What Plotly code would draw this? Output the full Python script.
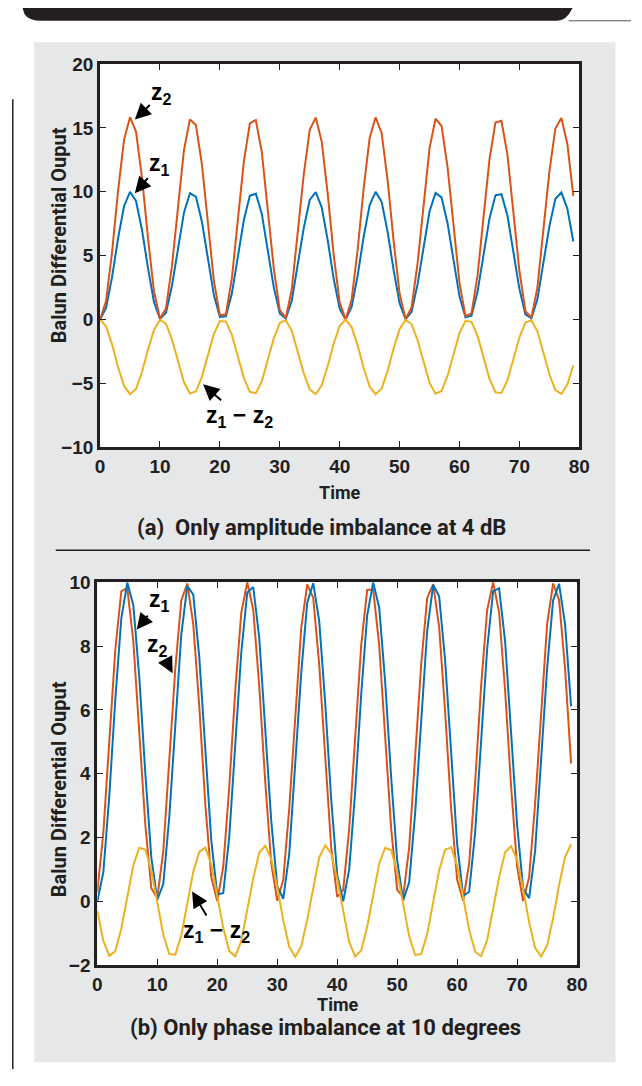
import plotly.graph_objects as go

# ---------------- data ----------------
time = list(range(80))

a_z1 = [0.00, 0.91, 3.32, 6.34, 8.87, 9.99, 9.28, 7.01, 4.02, 1.38,
        0.05, 0.54, 2.65, 5.62, 8.36, 9.88, 9.61, 7.66, 4.74, 1.91,
        0.21, 0.26, 2.03, 4.89, 7.79, 9.68, 9.85, 8.26, 5.48, 2.52,
        0.47, 0.08, 1.48, 4.16, 7.16, 9.36, 9.97, 8.78, 6.21, 3.19,
        0.83, 0.00, 1.00, 3.45, 6.48, 8.96, 9.99, 9.21, 6.87, 3.88,
        1.28, 0.03, 0.60, 2.77, 5.76, 8.47, 9.91, 9.56, 7.54, 4.60,
        1.80, 0.17, 0.30, 2.15, 5.03, 7.90, 9.72, 9.81, 8.14, 5.33,
        2.40, 0.41, 0.10, 1.58, 4.31, 7.29, 9.43, 9.95, 8.68, 6.11]

a_z2 = [0.00, 1.44, 5.26, 10.05, 14.06, 15.83, 14.71, 11.11, 6.37, 2.19,
        0.08, 0.86, 4.20, 8.91, 13.25, 15.66, 15.23, 12.14, 7.51, 3.03,
        0.33, 0.41, 3.22, 7.75, 12.35, 15.34, 15.61, 13.09, 8.69, 3.99,
        0.74, 0.13, 2.35, 6.59, 11.35, 14.84, 15.80, 13.92, 9.84, 5.06,
        1.32, 0.00, 1.59, 5.47, 10.27, 14.20, 15.83, 14.60, 10.89, 6.15,
        2.03, 0.05, 0.95, 4.39, 9.13, 13.42, 15.71, 15.15, 11.95, 7.29,
        2.85, 0.27, 0.48, 3.41, 7.97, 12.52, 15.41, 15.55, 12.90, 8.45,
        3.80, 0.65, 0.16, 2.50, 6.83, 11.55, 14.95, 15.77, 13.76, 9.68]

a_diff = [0.00, -0.53, -1.94, -3.71, -5.19, -5.84, -5.43, -4.10, -2.35, -0.81,
          -0.03, -0.32, -1.55, -3.29, -4.89, -5.78, -5.62, -4.48, -2.77, -1.12,
          -0.12, -0.15, -1.19, -2.86, -4.56, -5.66, -5.76, -4.83, -3.21, -1.47,
          -0.27, -0.05, -0.87, -2.43, -4.19, -5.48, -5.83, -5.14, -3.63, -1.87,
          -0.49, 0.00, -0.59, -2.02, -3.79, -5.24, -5.84, -5.39, -4.02, -2.27,
          -0.75, -0.02, -0.35, -1.62, -3.37, -4.95, -5.80, -5.59, -4.41, -2.69,
          -1.05, -0.10, -0.18, -1.26, -2.94, -4.62, -5.69, -5.74, -4.76, -3.12,
          -1.40, -0.24, -0.06, -0.92, -2.52, -4.26, -5.52, -5.82, -5.08, -3.57]

b_z1 = list(a_z1)

b_z2 = [0.30, 2.15, 5.03, 7.90, 9.72, 9.81, 8.15, 5.33, 2.40, 0.41,
        0.10, 1.58, 4.30, 7.29, 9.43, 9.96, 8.68, 6.11, 3.05, 0.75,
        0.01, 1.09, 3.59, 6.61, 9.04, 10.00, 9.13, 6.74, 3.74, 1.19,
        0.02, 0.67, 2.91, 5.90, 8.57, 9.93, 9.51, 7.41, 4.46, 1.69,
        0.14, 0.35, 2.27, 5.18, 8.02, 9.76, 9.77, 8.03, 5.19, 2.28,
        0.36, 0.14, 1.69, 4.45, 7.41, 9.50, 9.94, 8.59, 5.92, 2.91,
        0.68, 0.02, 1.18, 3.73, 6.75, 9.12, 10.00, 9.05, 6.60, 3.60,
        1.09, 0.01, 0.75, 3.04, 6.04, 8.67, 9.96, 9.44, 7.29, 4.32]

b_diff = [-0.30, -1.24, -1.71, -1.56, -0.85, 0.18, 1.13, 1.68, 1.62, 0.97,
          -0.05, -1.04, -1.65, -1.67, -1.07, -0.08, 0.93, 1.55, 1.69, 1.16,
          0.20, -0.83, -1.56, -1.72, -1.25, -0.32, 0.72, 1.52, 1.74, 1.33,
          0.45, -0.59, -1.43, -1.74, -1.41, -0.57, 0.46, 1.37, 1.75, 1.50,
          0.69, -0.35, -1.27, -1.73, -1.54, -0.80, 0.22, 1.18, 1.68, 1.60,
          0.92, -0.11, -1.09, -1.68, -1.65, -1.03, -0.03, 0.97, 1.62, 1.69,
          1.12, 0.15, -0.88, -1.58, -1.72, -1.22, -0.28, 0.76, 1.54, 1.73,
          1.31, 0.40, -0.65, -1.46, -1.73, -1.38, -0.53, 0.51, 1.39, 1.79]

x_ticks = [0, 10, 20, 30, 40, 50, 60, 70, 80]
a_y_ticks = [-10, -5, 0, 5, 10, 15, 20]
b_y_ticks = [-2, 0, 2, 4, 6, 8, 10]

y_title = "Balun Differential Ouput"
x_title = "Time"
caption_a = "(a)  Only amplitude imbalance at 4 dB"
caption_b = "(b) Only phase imbalance at 10 degrees"

# ---------------- styling ----------------
W, H = 642, 1086
BLUE, RED, YEL = "#0072BD", "#D95319", "#EDB120"
INK = "#231F20"
GRAY = "#E6E7E8"
NARROW = "Liberation Sans Narrow, Roboto, Arial, sans-serif"
SANS = "Liberation Sans, Arial, sans-serif"


def X(px):
    return px / W


def Y(py):
    return 1 - py / H


# plot-area pixel boxes (left, right, top, bottom)
A_BOX = (97.5, 589.0, 55.0, 446.0)
B_BOX = (94.7, 586.7, 583.5, 974.0)

fig = go.Figure()

LW = 2
fig.add_trace(go.Scatter(x=time, y=a_z1, mode="lines", line=dict(color=BLUE, width=LW), xaxis="x", yaxis="y"))
fig.add_trace(go.Scatter(x=time, y=a_z2, mode="lines", line=dict(color=RED, width=LW), xaxis="x", yaxis="y"))
fig.add_trace(go.Scatter(x=time, y=a_diff, mode="lines", line=dict(color=YEL, width=LW), xaxis="x", yaxis="y"))
fig.add_trace(go.Scatter(x=time, y=b_z2, mode="lines", line=dict(color=RED, width=LW), xaxis="x2", yaxis="y2"))
fig.add_trace(go.Scatter(x=time, y=b_z1, mode="lines", line=dict(color=BLUE, width=LW), xaxis="x2", yaxis="y2"))
fig.add_trace(go.Scatter(x=time, y=b_diff, mode="lines", line=dict(color=YEL, width=LW), xaxis="x2", yaxis="y2"))

tickfont = dict(family=SANS, size=19, color=INK, weight="bold")
common = dict(showline=True, linecolor=INK, linewidth=3, mirror="ticks",
              ticks="inside", ticklen=6, tickwidth=1.2, tickcolor=INK,
              showgrid=False, zeroline=False, tickfont=tickfont, fixedrange=True)

fig.update_layout(
    width=W, height=H, margin=dict(l=0, r=0, t=0, b=0),
    paper_bgcolor="white", plot_bgcolor="white", showlegend=False,
    xaxis=dict(domain=[X(A_BOX[0]), X(A_BOX[1])], range=[0, 80], tickvals=x_ticks, anchor="y", **common),
    yaxis=dict(domain=[Y(A_BOX[3]), Y(A_BOX[2])], range=[-10, 20], tickvals=a_y_ticks, anchor="x", **common),
    xaxis2=dict(domain=[X(B_BOX[0]), X(B_BOX[1])], range=[0, 80], tickvals=x_ticks, anchor="y2", **common),
    yaxis2=dict(domain=[Y(B_BOX[3]), Y(B_BOX[2])], range=[-2, 10], tickvals=b_y_ticks, anchor="x2", **common),
)

shapes = []
# gray page panel
shapes.append(dict(type="rect", xref="paper", yref="paper", layer="below",
                   x0=X(30), x1=X(626), y0=Y(1073), y1=Y(33),
                   fillcolor=GRAY, line=dict(width=0)))
for (l, r, t, b) in (A_BOX, B_BOX):
    shapes.append(dict(type="rect", xref="paper", yref="paper", layer="below",
                       x0=X(l), x1=X(r), y0=Y(b), y1=Y(t),
                       fillcolor="white", line=dict(width=0)))
# top black tab
pts = f"M {X(18)},{Y(-2)} L {X(20)},{Y(4)} Q {X(24)},{Y(11)} {X(38)},{Y(11)} " \
      f"L {X(566)},{Y(11)} Q {X(576)},{Y(11)} {X(582)},{Y(-2)} Z"
shapes.append(dict(type="path", xref="paper", yref="paper", path=pts,
                   fillcolor=INK, line=dict(width=0)))
shapes.append(dict(type="line", xref="paper", yref="paper",
                   x0=X(578), x1=X(642), y0=Y(11), y1=Y(11),
                   line=dict(color="#555555", width=1)))
# left vertical rule
shapes.append(dict(type="line", xref="paper", yref="paper",
                   x0=X(8), x1=X(8), y0=Y(91), y1=Y(1080),
                   line=dict(color=INK, width=1.5)))
# separator between panels
shapes.append(dict(type="line", xref="paper", yref="paper",
                   x0=X(52), x1=X(600), y0=Y(551), y1=Y(551),
                   line=dict(color=INK, width=1.5)))
fig.update_layout(shapes=shapes)

ann = []
title_font = dict(family=NARROW, size=20, color=INK, weight="bold")
ann.append(dict(xref="paper", yref="paper", x=X(55), y=Y(230), text=y_title, textangle=-90,
                showarrow=False, font=title_font, xanchor="center", yanchor="middle"))
ann.append(dict(xref="paper", yref="paper", x=X(55), y=Y(795), text=y_title, textangle=-90,
                showarrow=False, font=title_font, xanchor="center", yanchor="middle"))
xt_font = dict(family=NARROW, size=18, color=INK, weight="bold")
ann.append(dict(xref="paper", yref="paper", x=X(344), y=Y(492), text=x_title,
                showarrow=False, font=xt_font, xanchor="center", yanchor="middle"))
ann.append(dict(xref="paper", yref="paper", x=X(341), y=Y(1014), text=x_title,
                showarrow=False, font=xt_font, xanchor="center", yanchor="middle"))
cap_font = dict(family=NARROW, size=22, color=INK, weight="bold")
ann.append(dict(xref="paper", yref="paper", x=X(325), y=Y(528), text=caption_a,
                showarrow=False, font=cap_font, xanchor="center", yanchor="middle"))
ann.append(dict(xref="paper", yref="paper", x=X(329), y=Y(1038), text=caption_b,
                showarrow=False, font=cap_font, xanchor="center", yanchor="middle"))

lab_font = dict(family=SANS, size=23, color="black", weight="bold")
arrow = dict(showarrow=True, arrowhead=2, arrowsize=1.6, arrowwidth=2, arrowcolor="black", font=lab_font)
# panel a labels
ann.append(dict(xref="x", yref="y", x=5.8, y=15.65, ax=27, ay=-26, text="z<sub>2</sub>", **arrow))
ann.append(dict(xref="x", yref="y", x=5.8, y=9.89, ax=25, ay=-29, text="z<sub>1</sub>", **arrow))
ann.append(dict(xref="x", yref="y", x=17.2, y=-5.07, ax=36, ay=32, text="z<sub>1</sub> − z<sub>2</sub>", **arrow))
# panel b labels
ann.append(dict(xref="x2", yref="y2", x=6.57, y=8.52, ax=23, ay=-29, text="z<sub>1</sub>", **arrow))
ann.append(dict(xref="x2", yref="y2", x=12.56, y=7.15, ax=-15, ay=-28, text="z<sub>2</sub>", **arrow))
ann.append(dict(xref="x2", yref="y2", x=15.8, y=0.31, ax=24, ay=40, text="z<sub>1</sub> − z<sub>2</sub>", **arrow))
fig.update_layout(annotations=ann)

fig.write_html("out.html")
